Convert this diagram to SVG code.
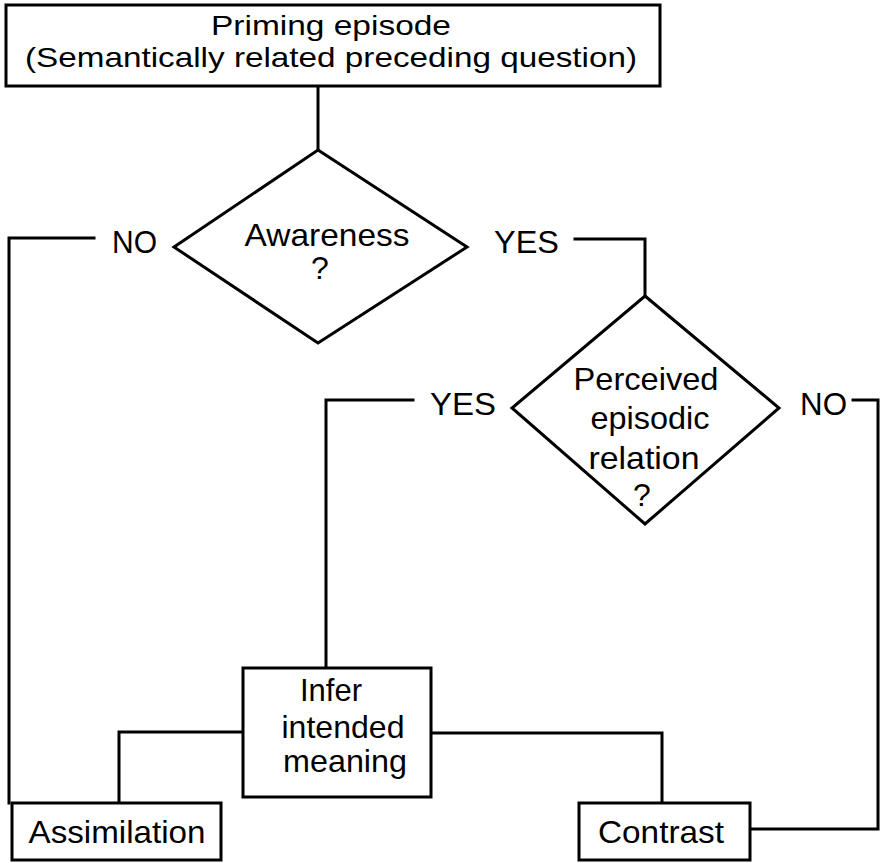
<svg xmlns="http://www.w3.org/2000/svg" width="885" height="863" viewBox="0 0 885 863">
<style>
.shape{fill:#fff;stroke:#000;stroke-width:3;stroke-linejoin:miter}
.conn{fill:none;stroke:#000;stroke-width:3;stroke-linejoin:miter;stroke-linecap:square}
text{font-family:"Liberation Sans",Arial,Helvetica,sans-serif;font-size:32px;fill:#000}
.c{text-anchor:middle}
.top{font-size:28px}
</style>
<rect width="885" height="863" fill="#fff"/>
<g id="connectors">
<path class="conn" d="M318,86 V150"/>
<path class="conn" d="M94,238 H9 V803"/>
<path class="conn" d="M575,239 H645 V296"/>
<path class="conn" d="M413,400 H326 V668"/>
<path class="conn" d="M853,400 H878 V829 H749"/>
<path class="conn" d="M243,732 H119 V803"/>
<path class="conn" d="M430,733 H662 V803"/>
</g>
<g id="priming">
<rect class="shape" x="6" y="5" width="654" height="81"/>
<text class="c top" x="331" y="35" textLength="240" lengthAdjust="spacingAndGlyphs">Priming episode</text>
<text class="c top" x="331" y="67" textLength="612" lengthAdjust="spacingAndGlyphs">(Semantically related preceding question)</text>
</g>
<g id="awareness">
<polygon class="shape" points="318,150 467,247 318,343 174,247"/>
<text class="c" x="327" y="246" textLength="165" lengthAdjust="spacingAndGlyphs">Awareness</text>
<text class="c" x="320" y="279">?</text>
</g>
<g id="awareness-no">
<text x="112" y="253" textLength="45" lengthAdjust="spacingAndGlyphs">NO</text>
</g>
<g id="awareness-yes">
<text x="494" y="253" textLength="65" lengthAdjust="spacingAndGlyphs">YES</text>
</g>
<g id="perceived">
<polygon class="shape" points="645,296 779,408 645,524 512,408"/>
<text class="c" x="646" y="390" textLength="145" lengthAdjust="spacingAndGlyphs">Perceived</text>
<text class="c" x="650" y="429" textLength="119" lengthAdjust="spacingAndGlyphs">episodic</text>
<text class="c" x="644" y="469" textLength="111" lengthAdjust="spacingAndGlyphs">relation</text>
<text class="c" x="642" y="506">?</text>
</g>
<g id="perceived-yes">
<text x="430" y="415" textLength="66" lengthAdjust="spacingAndGlyphs">YES</text>
</g>
<g id="perceived-no">
<text x="800" y="415" textLength="47" lengthAdjust="spacingAndGlyphs">NO</text>
</g>
<g id="infer">
<rect class="shape" x="243" y="668" width="188" height="129"/>
<text class="c" x="331" y="701" textLength="62" lengthAdjust="spacingAndGlyphs">Infer</text>
<text class="c" x="343" y="738" textLength="123" lengthAdjust="spacingAndGlyphs">intended</text>
<text class="c" x="345" y="772" textLength="124" lengthAdjust="spacingAndGlyphs">meaning</text>
</g>
<g id="assimilation">
<rect class="shape" x="12" y="803" width="209" height="57"/>
<text class="c" x="117" y="843" textLength="177" lengthAdjust="spacingAndGlyphs">Assimilation</text>
</g>
<g id="contrast">
<rect class="shape" x="579" y="803" width="171" height="57"/>
<text class="c" x="661" y="843" textLength="126" lengthAdjust="spacingAndGlyphs">Contrast</text>
</g>
</svg>
